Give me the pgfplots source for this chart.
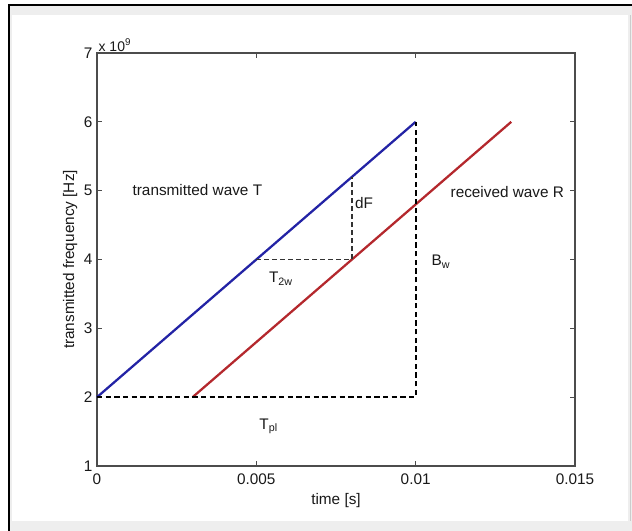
\documentclass[border=0pt]{standalone}
\usepackage{pgfplots}
\pgfplotsset{compat=1.18}
\usepackage{fontspec}
\setmainfont{Liberation Sans}
\definecolor{tblue}{RGB}{35,35,165}
\definecolor{rred}{RGB}{180,40,45}
\definecolor{framegray}{RGB}{238,238,238}
\begin{document}
\begin{tikzpicture}
\useasboundingbox (0,0) rectangle (474pt,398.25pt);
% frame
\fill[framegray] (7.5pt,0pt) rectangle (474pt,394.5pt);
\fill[white] (9pt,7.5pt) rectangle (471pt,387pt);
\draw[black,line width=1.5pt] (6.75pt,0pt) -- (6.75pt,394.5pt) -- (474pt,394.5pt);
\draw[gray!40,line width=0.6pt] (472.5pt,7.5pt) -- (472.5pt,387pt);
\begin{axis}[
  at={(72.75pt,48.75pt)}, anchor=south west,
  scale only axis,
  width=358.5pt, height=309.75pt,
  xmin=0, xmax=0.015, ymin=1, ymax=7,
  scaled x ticks=false,
  xtick={0,0.005,0.01,0.015},
  xticklabels={0,0.005,0.01,0.015},
  ytick={1,2,3,4,5,6,7},
  tick align=inside,
  major tick length=3.5pt,
  axis line style={gray!60!black, line width=0.8pt},
  tick style={gray!60!black, line width=0.6pt},
  /pgf/number format/assume math mode=true,
  ticklabel style={font=\fontsize{11.5}{13}\selectfont, text=black!90},
  xticklabel style={yshift=-2pt},
  label style={font=\fontsize{11.5}{13}\selectfont, text=black!90},
  xlabel={time [s]},
  ylabel={transmitted frequency [Hz]},
  xlabel style={yshift=0pt},
  ylabel style={yshift=-2pt},
  clip=false,
]
% transmitted wave T
\addplot[tblue, line width=1.7pt] coordinates {(0,2) (0.01,6)};
% received wave R
\addplot[rred, line width=1.7pt] coordinates {(0.003,2) (0.013,6)};
% dashed construction lines
\addplot[black, line width=1.4pt, dash pattern=on 4pt off 2.5pt] coordinates {(0,2) (0.01,2) (0.01,6)};
\addplot[black!80, line width=1pt, dash pattern=on 3.5pt off 2.5pt] coordinates {(0.005,4) (0.008,4) (0.008,5.2)};
% annotations
\node[anchor=west, font=\fontsize{11.5}{13}\selectfont, text=black!90] at (axis cs:0.00097,5.01) {transmitted wave T};
\node[anchor=west, font=\fontsize{11.5}{13}\selectfont, text=black!90] at (axis cs:0.01095,4.98) {received wave R};
\node[anchor=west, font=\fontsize{11.5}{13}\selectfont, text=black!90, inner sep=1pt] at (axis cs:0.00805,4.82) {dF};
\node[anchor=west, font=\fontsize{11.5}{13}\selectfont, text=black!90] at (axis cs:0.00525,3.72) {T\textsubscript{2w}};
\node[anchor=west, font=\fontsize{11.5}{13}\selectfont, text=black!90] at (axis cs:0.01035,3.97) {B\textsubscript{w}};
\node[anchor=west, font=\fontsize{11.5}{13}\selectfont, text=black!90] at (axis cs:0.00495,1.58) {T\textsubscript{pl}};
\node[anchor=south west, font=\fontsize{10.5}{12}\selectfont, text=black!90, inner sep=1pt] at (rel axis cs:0,1) {x 10\textsuperscript{9}};
\end{axis}
\end{tikzpicture}
\end{document}
